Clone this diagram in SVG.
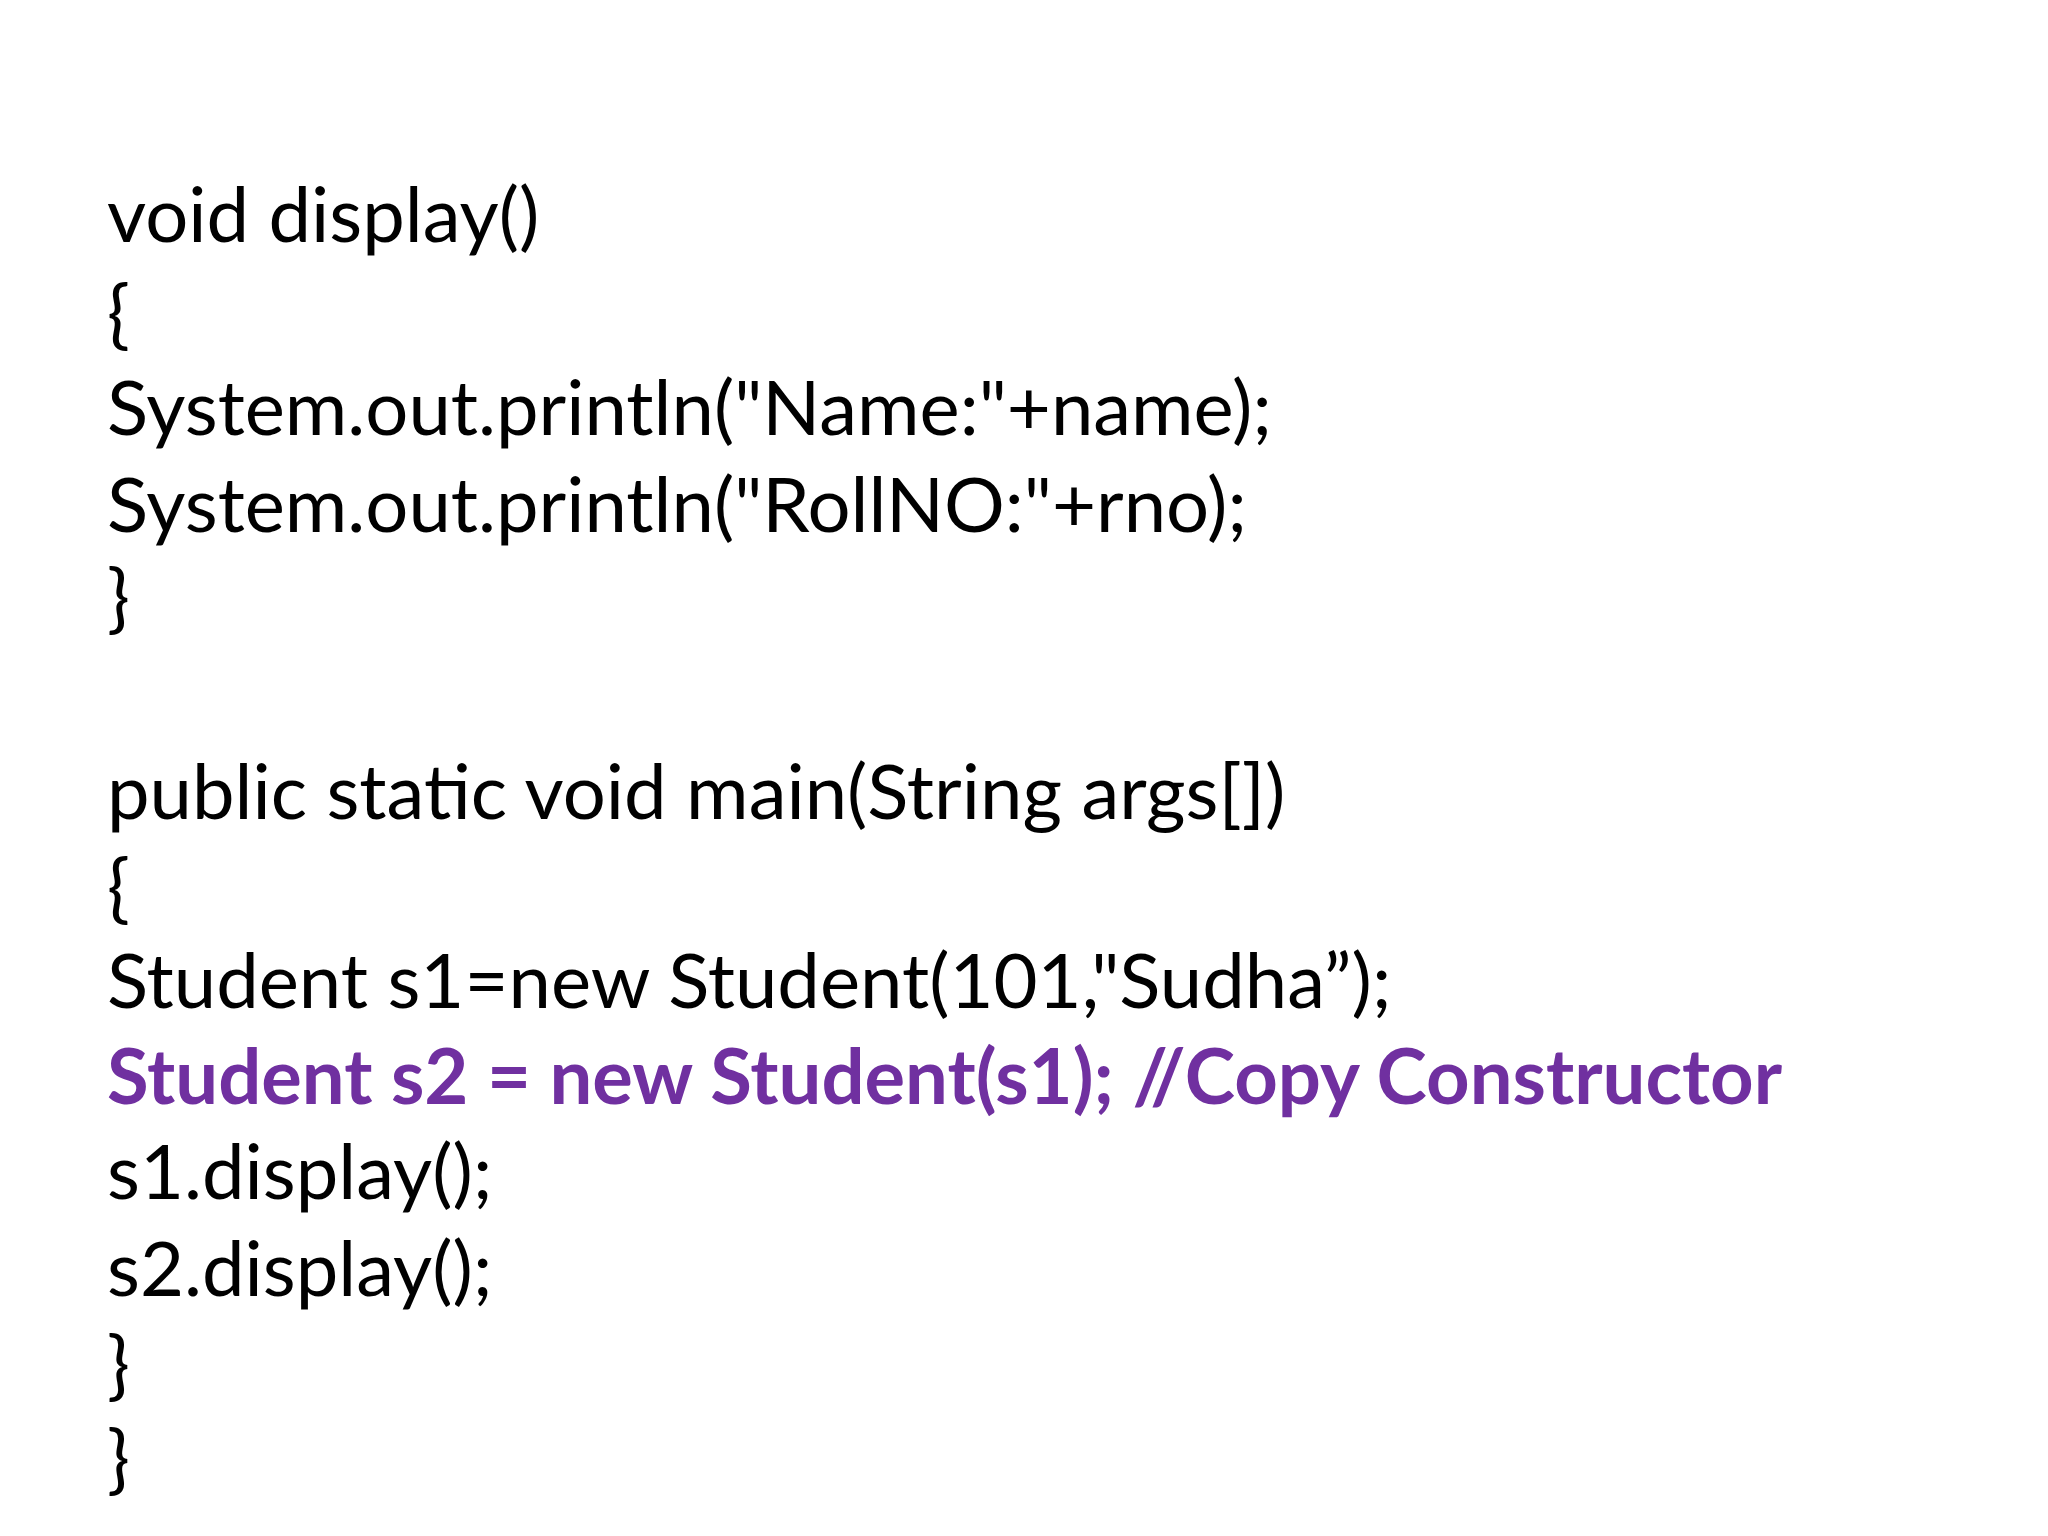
<svg xmlns="http://www.w3.org/2000/svg" width="2048" height="1536" viewBox="0 0 2048 1536">
<style>
text{font-family:Lato,"Open Sans",sans-serif;font-size:76px;fill:#000}
.p{fill:#7030A0;font-weight:bold}
</style>
<rect width="2048" height="1536" fill="#fff"/>
<g id="code">
<text x="107" y="242">void display()</text>
<text x="107" y="340">{</text>
<text x="107" y="435">System.out.println("Name:"+name);</text>
<text x="107" y="532">System.out.println("RollNO:"+rno);</text>
<text x="107" y="624">}</text>
<text x="107" y="819">public static void main(String args[])</text>
<text x="107" y="914">{</text>
<text x="107" y="1008">Student s1=new Student(101,"Sudha”);</text>
<text class="p" x="107" y="1104">Student s2 = new Student(s1); //Copy Constructor</text>
<text x="107" y="1199">s1.display();</text>
<text x="107" y="1296">s2.display();</text>
<text x="107" y="1391">}</text>
<text x="107" y="1485">}</text>
</g>
</svg>
